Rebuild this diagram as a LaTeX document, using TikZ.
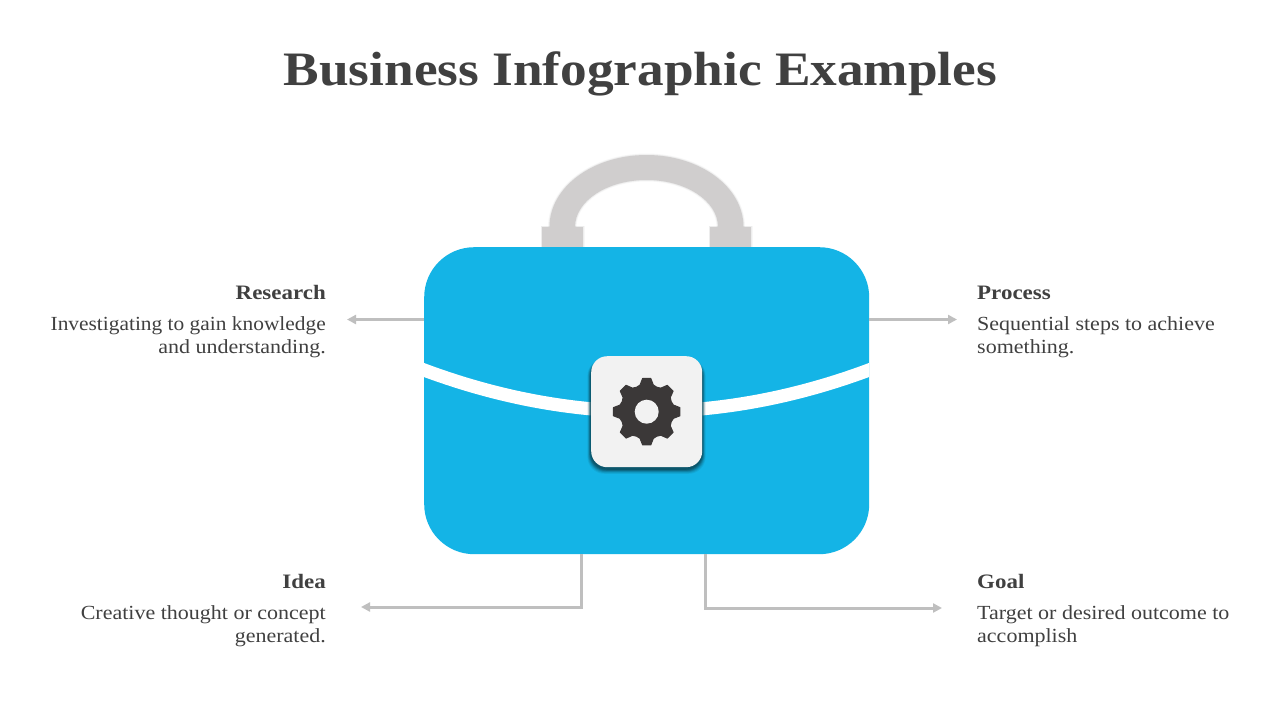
\documentclass[tikz,border=0pt]{standalone}
\usepackage{fontspec}
\setmainfont{Liberation Serif}
\newfontfamily\headfont[FakeStretch=1.12]{Liberation Serif}
\newfontfamily\bodyfont[FakeStretch=1.10]{Liberation Serif}
\newfontfamily\bodytight[FakeStretch=1.07]{Liberation Serif}
\newfontfamily\titlefont[FakeStretch=1.11]{Liberation Serif}
\usetikzlibrary{arrows.meta}
\definecolor{ink}{HTML}{404040}
\definecolor{bagblue}{HTML}{14B4E6}
\definecolor{handlegrey}{HTML}{D0CECE}
\definecolor{wire}{HTML}{BFBFBF}
\definecolor{cardfill}{HTML}{F2F2F2}
\definecolor{gearcol}{HTML}{3B3838}
\definecolor{shadowcol}{HTML}{0B4A5C}
\tikzset{
  x=1pt,y=-1pt,
  titletext/.style={inner sep=0,text=ink,font=\titlefont\bfseries\fontsize{48}{56}\selectfont},
  headr/.style={anchor=base east,inner sep=0,text=ink,font=\headfont\bfseries\fontsize{20.5}{25}\selectfont},
  headl/.style={anchor=base west,inner sep=0,text=ink,font=\headfont\bfseries\fontsize{20.5}{25}\selectfont},
  bodyr/.style={anchor=north east,align=right,inner sep=0,text=ink,font=\bodyfont\fontsize{20}{23}\selectfont},
  bodyl/.style={anchor=north west,align=left,inner sep=0,text=ink,font=\bodyfont\fontsize{20}{23}\selectfont},
  conn/.style={draw=wire,line width=3pt,-{Triangle[length=9pt,width=9pt]}},
  footbox/.style={fill=handlegrey,inner sep=0,minimum width=41pt,minimum height=20pt,anchor=north west},
}
\begin{document}
\begin{tikzpicture}
\useasboundingbox (0,0) rectangle (1280,720);
\fill[white] (0,0) rectangle (1280,720);
% handle
\foreach \w/\o in {3/0.03,1.5/0.04}{
  \draw[black,opacity=\o,line width=\w pt] (549.5,227) .. controls (549.5,187) and (593,155) .. (646.5,155) .. controls (700,155) and (743.5,187) .. (743.5,227);
  \draw[black,opacity=\o,line width=\w pt] (575,227) .. controls (575,201) and (607,180) .. (646.5,180) .. controls (686,180) and (718,201) .. (718,227);
  \draw[black,opacity=\o,line width=\w pt] (542,247) -- (542,227) -- (583,227) -- (583,247);
  \draw[black,opacity=\o,line width=\w pt] (710,247) -- (710,227) -- (751,227) -- (751,247);
}
\fill[handlegrey] (549.5,227) .. controls (549.5,187) and (593,155) .. (646.5,155) .. controls (700,155) and (743.5,187) .. (743.5,227)
  -- (718,227) .. controls (718,201) and (686,180) .. (646.5,180) .. controls (607,180) and (575,201) .. (575,227) -- cycle;
\node[footbox] (footl) at (542,227) {};
\node[footbox] (footr) at (710,227) {};
% bag and connectors
\coordinate (rEnd) at (347,319.5);
\coordinate (pEnd) at (957,319.5);
\coordinate (iStart) at (581,554);
\coordinate (iEnd) at (361,607);
\coordinate (gStart) at (705,554);
\coordinate (gEnd) at (942,608);
\node[inner sep=0,minimum width=445pt,minimum height=307pt,anchor=north west,rectangle,fill=bagblue,rounded corners=50pt] (bag) at (424,247) {};
\draw[conn] (bag.west |- rEnd) -- (rEnd);
\draw[conn] (bag.east |- pEnd) -- (pEnd);
\draw[conn] (iStart) |- (iEnd);
\draw[conn] (gStart) |- (gEnd);
% swoosh
\begin{scope}
\clip (424,300) rectangle (869,440);
\draw[white,line width=13.2pt] (414,366.2) .. controls (569,426.5) and (724,426.5) .. (879,366.2);
\end{scope}
% card
\foreach \e/\o in {6/0.10,5/0.14,4/0.2,3/0.3,2/0.4,1/0.5}{
  \fill[shadowcol,opacity=\o,rounded corners=17pt] (591-\e*0.6,359) rectangle (702+\e*0.6,469+\e*0.8);
}
\node[inner sep=0,minimum size=111pt,anchor=north west,fill=cardfill,rounded corners=16pt] (card) at (591,356) {};
% gear
\begin{scope}[shift={(card.center)}]
\fill[gearcol,draw=gearcol,line width=1pt,line join=round]
  (-7:33.5)
  \foreach \a in {0,45,...,315}{
    -- (\a-7:33.5) -- (\a+7:33.5) -- (\a+14:27.5) -- (\a+22.5:26.5) -- (\a+31:27.5)
  } -- cycle;
\fill[cardfill] (0,0) circle[radius=12];
\end{scope}
% texts
\node[titletext] (title) at (640.5,74) {Business Infographic Examples};
\node[headr] (h1) at (326,299) {Research};
\node[bodyr] (b1) at (326,316) {{\bodytight Investigating to gain knowledge}\\and understanding.};
\node[headl] (h2) at (977,299) {Process};
\node[bodyl] (b2) at (977,316) {Sequential steps to achieve\\something.};
\node[headr] (h3) at (326,588) {Idea};
\node[bodyr] (b3) at (326,605) {Creative thought or concept\\generated.};
\node[headl] (h4) at (977,588) {Goal};
\node[bodyl] (b4) at (977,605) {Target or desired outcome to\\accomplish};
\end{tikzpicture}
\end{document}
